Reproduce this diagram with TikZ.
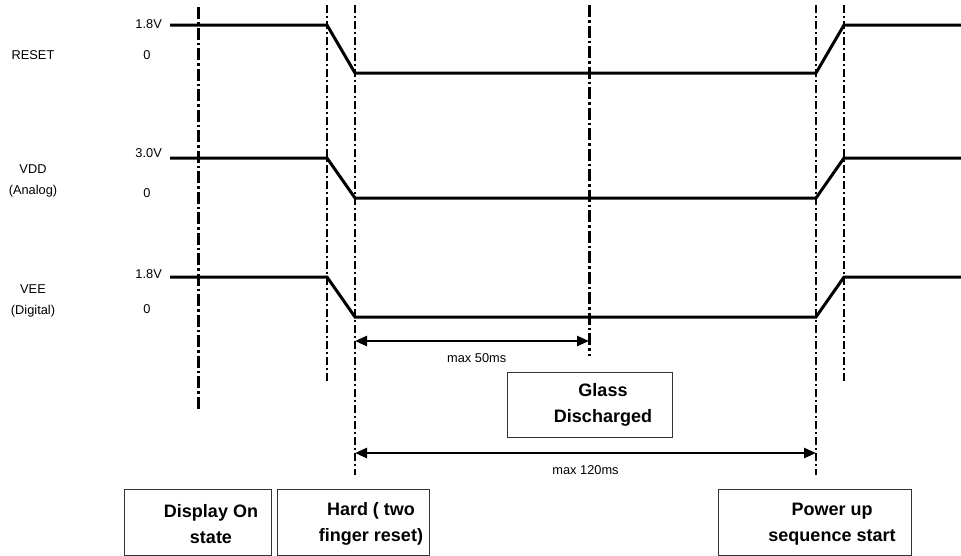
\documentclass[tikz,border=0pt]{standalone}
\usepackage{fontspec}
\setmainfont{Liberation Sans}
\usetikzlibrary{arrows.meta, positioning}

\begin{document}
\begin{tikzpicture}[x=1pt,y=-1pt,>={Triangle[length=12pt,width=10pt]},
    sig/.style={line width=3pt,line join=miter},
    guide thick/.style={line width=3pt,dash pattern=on 12pt off 3pt on 2.5pt off 3pt},
    guide thin/.style={line width=1.8pt,dash pattern=on 8pt off 3pt on 2pt off 3pt},
    span/.style={<->,line width=2.4pt},
    lbl/.style={font=\fontsize{12.8}{21}\selectfont,inner sep=0pt,align=center},
    phase box/.style={draw=black!80,line width=1pt,inner sep=0pt},
    phase text/.style={font=\fontsize{18}{26}\selectfont\bfseries,align=center,inner sep=0pt}]

    \useasboundingbox (0,0) rectangle (961,555);

    % signal names and levels
    \node[lbl] (reset) at (33,55) {RESET};
    \node[lbl] (vdd) at (33,181) {VDD\\(Analog)};
    \node[lbl] (vee) at (33,301) {VEE\\(Digital)};
    \node[lbl,anchor=east] (resethi) at (162,24) {1.8V};
    \node[lbl] (resetlo) at (147,55) {0};
    \node[lbl,anchor=east] (vddhi) at (162,153) {3.0V};
    \node[lbl] (vddlo) at (147,193) {0};
    \node[lbl,anchor=east] (veehi) at (162,274) {1.8V};
    \node[lbl] (veelo) at (147,309) {0};

    % waveforms
    \foreach \hi/\lo in {25/73, 158/198, 277/317}
        \draw[sig] (170,\hi) -- (327,\hi) -- (355,\lo) -- (816,\lo) -- (844,\hi) -- (961,\hi);

    % time markers
    \draw[guide thick] (198,7) -- (198,411);
    \draw[guide thin] (327,5) -- (327,381);
    \draw[guide thin] (355,5) -- (355,475);
    \draw[guide thick] (589,5) -- (589,356);
    \draw[guide thin] (816,5) -- (816,475);
    \draw[guide thin] (844,5) -- (844,381);

    % timing spans
    \coordinate (off50) at (355,341);
    \coordinate (on50) at (589,341);
    \coordinate (off120) at (355,453);
    \coordinate (on120) at (816,453);
    \draw[span] (off50) -- (on50) node[lbl,pos=0.52,below=11pt] (max50) {max 50ms};
    \draw[span] (off120) -- (on120) node[lbl,pos=0.5,below=11pt] (max120) {max 120ms};

    % phases
    \node[phase box,minimum width=165pt,minimum height=65pt] (glass) at (589.5,404.5) {};
    \node[phase text] (glasstext) at (603,405) {Glass\\Discharged};

    \node[phase box,minimum width=147pt,minimum height=66pt] (display) at (197.5,522) {};
    \node[phase text] (displaytext) at (211,524) {Display On\\state};

    \node[phase box,minimum width=152pt,minimum height=66pt] (hard) at (353,522) {};
    \node[phase text] (hardtext) at (371,524) {Hard ( two\\finger reset)};

    \node[phase box,minimum width=193pt,minimum height=66pt] (powerup) at (814.5,522) {};
    \node[phase text] (poweruptext) at (832,524) {Power up\\sequence start};
\end{tikzpicture}
\end{document}
